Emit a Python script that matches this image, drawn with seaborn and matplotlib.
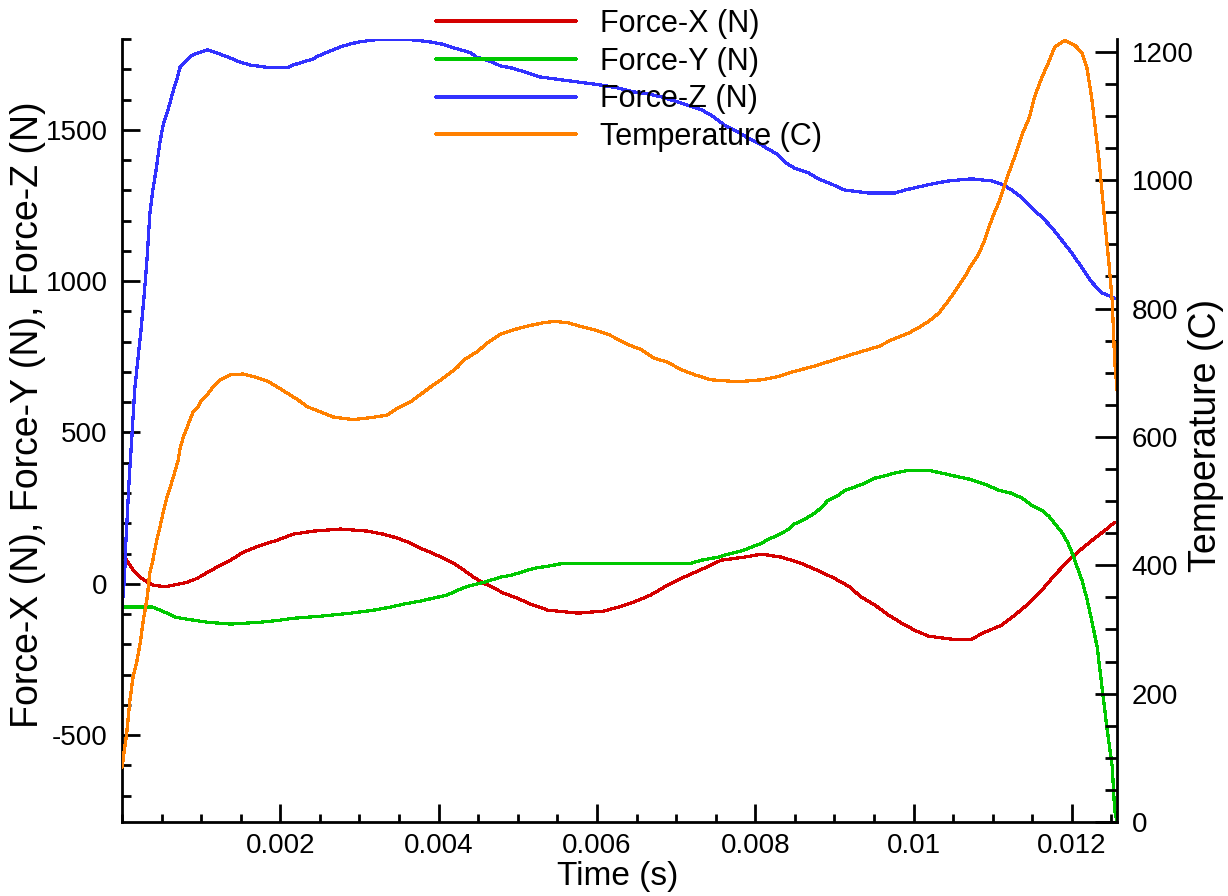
import matplotlib
matplotlib.use("Agg")
import matplotlib.pyplot as plt
from matplotlib import font_manager
from matplotlib.ticker import MultipleLocator, FixedLocator, FuncFormatter
import seaborn as sns
import pandas as pd

# ---------------- data (time in ms) ----------------
fx_t = [0, 0.06, 0.14, 0.23, 0.32, 0.39, 0.54, 0.70, 0.82, 0.95, 1.08, 1.20, 1.37, 1.53, 1.75,
        1.96, 2.16, 2.42, 2.76, 3.10, 3.30, 3.48, 3.65, 3.77, 3.90, 4.03, 4.19, 4.32, 4.44, 4.57,
        4.70, 4.82, 5.00, 5.16, 5.38, 5.76, 6.09, 6.27, 6.47, 6.68, 6.90, 7.15, 7.35, 7.57, 7.86,
        8.08, 8.33, 8.58, 8.84, 9.00, 9.18, 9.34, 9.51, 9.68, 9.85, 10.01, 10.19, 10.48, 10.73,
        10.90, 11.11, 11.28, 11.46, 11.62, 11.78, 11.96, 12.13, 12.29, 12.42, 12.54]
fx_v = [95, 78, 45, 22, 6, -4, -10, -2, 5, 18, 38, 55, 78, 104, 127,
        144, 164, 174, 181, 174, 164, 151, 134, 117, 104, 88, 68, 45, 22, 2,
        -14, -31, -48, -67, -87, -97, -90, -77, -60, -37, -3, 28, 51, 78, 88,
        98, 88, 68, 38, 18, -8, -44, -70, -103, -130, -153, -173, -183, -183,
        -160, -137, -103, -64, -21, 28, 78, 117, 151, 177, 203]

fy_t = [0, 0.39, 0.48, 0.57, 0.67, 0.82, 1.08, 1.37, 1.75, 2.00, 2.16, 2.51, 2.89, 3.18, 3.39,
        3.56, 3.77, 3.94, 4.11, 4.24, 4.37, 4.53, 4.66, 4.78, 4.91, 5.04, 5.20, 5.38, 5.58, 7.19,
        7.32, 7.53, 7.66, 7.82, 7.95, 8.08, 8.16, 8.29, 8.42, 8.49, 8.62, 8.75, 8.84, 8.92, 9.05,
        9.13, 9.25, 9.38, 9.51, 9.63, 9.76, 9.94, 10.19, 10.35, 10.52, 10.70, 10.90, 11.08, 11.24,
        11.37, 11.49, 11.62, 11.71, 11.78, 11.87, 11.94, 12.00, 12.06, 12.13, 12.19, 12.25, 12.32,
        12.38, 12.44, 12.51, 12.54, 12.57]
fy_v = [-77, -77, -87, -97, -110, -117, -127, -133, -127, -120, -114, -107, -97, -87, -77,
        -67, -57, -47, -37, -21, -8, 2, 12, 22, 28, 38, 51, 58, 68, 68,
        78, 88, 98, 108, 121, 134, 147, 161, 180, 197, 213, 233, 253, 276, 292,
        309, 319, 332, 349, 356, 366, 375, 375, 366, 356, 346, 329, 309, 299,
        283, 260, 243, 223, 200, 171, 140, 104, 60, 10, -50, -120, -210,
        -340, -470, -605, -747, -787]

fz_t = [0, 0.03, 0.05, 0.09, 0.13, 0.16, 0.20, 0.24, 0.28, 0.32, 0.35, 0.39, 0.43, 0.48, 0.52,
        0.57, 0.61, 0.65, 0.70, 0.73, 0.77, 0.82, 0.86, 0.90, 0.96, 1.08, 1.20, 1.33, 1.49, 1.62,
        1.87, 2.09, 2.16, 2.29, 2.41, 2.48, 2.57, 2.67, 2.76, 2.89, 2.99, 3.18, 3.43, 3.68, 3.90,
        4.03, 4.15, 4.28, 4.41, 4.47, 4.68, 4.78, 4.91, 5.04, 5.16, 5.27, 5.67, 6.05, 6.27, 6.47,
        6.65, 6.81, 7.06, 7.32, 7.44, 7.61, 7.78, 7.91, 8.04, 8.16, 8.29, 8.37, 8.49, 8.67, 8.80,
        8.96, 9.13, 9.43, 9.76, 9.89, 10.06, 10.23, 10.44, 10.73, 10.99, 11.11, 11.24, 11.37,
        11.49, 11.62, 11.75, 11.87, 12.00, 12.13, 12.25, 12.38, 12.54]
fz_v = [-77, 12, 144, 343, 508, 640, 740, 838, 954, 1086, 1218, 1301, 1367, 1460, 1516,
        1556, 1592, 1632, 1672, 1705, 1718, 1731, 1741, 1748, 1754, 1764, 1754, 1741, 1724, 1714,
        1705, 1705, 1714, 1724, 1734, 1744, 1754, 1764, 1774, 1784, 1790, 1797, 1799, 1797, 1790,
        1784, 1774, 1764, 1754, 1741, 1724, 1711, 1705, 1695, 1685, 1675, 1661, 1648, 1638, 1625,
        1618, 1609, 1589, 1566, 1549, 1516, 1493, 1473, 1456, 1437, 1417, 1394, 1374, 1358, 1338,
        1321, 1301, 1291, 1291, 1301, 1311, 1321, 1331, 1338, 1331, 1321, 1301, 1275,
        1242, 1212, 1176, 1136, 1093, 1043, 997, 961, 944]

temp_t = [0, 0.06, 0.10, 0.14, 0.19, 0.23, 0.27, 0.32, 0.35, 0.39, 0.44, 0.48, 0.52, 0.57, 0.61,
          0.65, 0.71, 0.73, 0.77, 0.82, 0.86, 0.90, 0.96, 1.01, 1.08, 1.15, 1.24, 1.37, 1.53, 1.66,
          1.84, 1.96, 2.09, 2.22, 2.34, 2.51, 2.67, 2.92, 3.14, 3.35, 3.48, 3.65, 3.77, 3.90, 4.03,
          4.15, 4.24, 4.32, 4.49, 4.62, 4.78, 4.95, 5.13, 5.33, 5.46, 5.63, 5.80, 5.96, 6.14, 6.30,
          6.39, 6.56, 6.72, 6.90, 7.06, 7.23, 7.44, 7.78, 8.08, 8.29, 8.49, 8.71, 8.92, 9.13, 9.34,
          9.56, 9.72, 9.94, 10.06, 10.19, 10.32, 10.42, 10.52, 10.65, 10.73, 10.82, 10.89, 10.95,
          11.01, 11.08, 11.15, 11.24, 11.30, 11.37, 11.46, 11.53, 11.62, 11.71, 11.78, 11.91,
          12.04, 12.13, 12.19, 12.25, 12.29, 12.34, 12.38, 12.42, 12.47, 12.51, 12.54, 12.57]
temp_v = [85, 139, 190, 226, 252, 279, 315, 351, 388, 408, 440, 460, 482, 507, 522,
          538, 564, 580, 598, 614, 627, 639, 647, 658, 666, 678, 689, 697, 698, 694,
          687, 678, 668, 658, 647, 639, 631, 627, 630, 634, 645, 655, 666, 678, 689,
          700, 709, 720, 733, 747, 760, 767, 773, 778, 780, 778, 772, 767, 760, 750,
          744, 736, 723, 716, 705, 697, 689, 686, 689, 694, 702, 709, 717, 725, 733,
          741, 751, 762, 770, 780, 793, 809, 826, 850, 868, 884, 904, 926,
          946, 966, 993, 1024, 1044, 1071, 1097, 1130, 1160, 1185, 1207, 1218,
          1210, 1198, 1175, 1129, 1087, 1035, 982, 931, 868, 811, 720, 673]

series_names = ["Force-X (N)", "Force-Y (N)", "Force-Z (N)", "Temperature (C)"]
series_colors = ["#d40000", "#00c800", "#3232ff", "#ff8000"]
x_tick_values = [0.002, 0.004, 0.006, 0.008, 0.010, 0.012]
left_tick_values = [-500, 0, 500, 1000, 1500]
right_tick_values = [0, 200, 400, 600, 800, 1000, 1200]

# ---------------- style ----------------
sns.set_theme(style="white")
avail = {f.name for f in font_manager.fontManager.ttflist}
fam = [f for f in ["Liberation Sans Narrow", "Liberation Sans", "DejaVu Sans"] if f in avail]
plt.rcParams["font.family"] = fam
plt.rcParams["font.size"] = 20
plt.rcParams["lines.antialiased"] = False
plt.rcParams["axes.unicode_minus"] = False
for key in ("text.color", "axes.labelcolor", "xtick.color", "ytick.color",
            "xtick.labelcolor", "ytick.labelcolor", "axes.edgecolor"):
    plt.rcParams[key] = "black"

fig = plt.figure(figsize=(12.28, 8.96), dpi=100)
fig.subplots_adjust(left=122 / 1228, right=1117 / 1228, bottom=1 - 822 / 896, top=1 - 39 / 896)
ax = fig.add_subplot(111)
ax2 = ax.twinx()

def frame(t, v):
    return pd.DataFrame({"t": [x / 1000.0 for x in t], "v": v})

lw = 1.6
sns.lineplot(data=frame(fx_t, fx_v), x="t", y="v", ax=ax, color=series_colors[0], lw=lw,
             estimator=None, sort=False, label=series_names[0], legend=False)
sns.lineplot(data=frame(fy_t, fy_v), x="t", y="v", ax=ax, color=series_colors[1], lw=lw,
             estimator=None, sort=False, label=series_names[1], legend=False)
sns.lineplot(data=frame(fz_t, fz_v), x="t", y="v", ax=ax, color=series_colors[2], lw=lw,
             estimator=None, sort=False, label=series_names[2], legend=False)
sns.lineplot(data=frame(temp_t, temp_v), x="t", y="v", ax=ax2, color=series_colors[3], lw=lw,
             estimator=None, sort=False, label=series_names[3], legend=False)

ax.set_xlim(0, 0.01257)
ax.set_ylim(-787, 1800)
ax2.set_ylim(0, 1220)

ax.xaxis.set_major_locator(FixedLocator(x_tick_values))
ax.xaxis.set_minor_locator(MultipleLocator(0.0005))
ax.xaxis.set_major_formatter(FuncFormatter(lambda v, p: f"{v:g}"))
ax.yaxis.set_major_locator(FixedLocator(left_tick_values))
ax.yaxis.set_minor_locator(MultipleLocator(100))
ax2.yaxis.set_major_locator(FixedLocator(right_tick_values))
ax2.yaxis.set_minor_locator(MultipleLocator(50))

for a in (ax, ax2):
    for side in ("left", "right", "bottom"):
        a.spines[side].set_visible(True)
        a.spines[side].set_color("black")
        a.spines[side].set_linewidth(2.0)
    a.spines["top"].set_visible(False)
ax.spines["right"].set_visible(False)
ax2.spines["left"].set_visible(False)
ax2.spines["bottom"].set_visible(False)

ax.tick_params(axis="y", which="both", direction="in", left=True, right=False, width=2,
               color="black", labelsize=20, pad=10.5)
ax.tick_params(axis="y", which="major", length=13)
ax.tick_params(axis="y", which="minor", length=6.5)
ax.tick_params(axis="x", which="both", direction="in", bottom=True, top=False, width=2,
               color="black", labelsize=20, pad=8)
ax.tick_params(axis="x", which="major", length=13)
ax.tick_params(axis="x", which="minor", length=6)
ax2.tick_params(axis="y", which="both", direction="in", right=True, left=False, width=2,
                color="black", labelsize=20, pad=10.5)
ax2.tick_params(axis="y", which="major", length=16)
ax2.tick_params(axis="y", which="minor", length=9)

ax.set_xlabel("Time (s)", fontsize=24)
ax.set_ylabel("Force-X (N), Force-Y (N), Force-Z (N)", fontsize=27)
ax2.set_ylabel("Temperature (C)", fontsize=27)
ax.xaxis.set_label_coords(0.4985, -0.050)
ax.yaxis.set_label_coords(-0.0764, 0.52)
ax2.yaxis.set_label_coords(1.0714, 0.494)
ax.grid(False)
ax2.grid(False)

handles = ax.get_lines()[:3] + ax2.get_lines()[:1]
fig.legend(handles, series_names, loc="upper left", bbox_to_anchor=(436 / 1228, 1 - 9 / 896),
           frameon=False, handlelength=4.58, handletextpad=0.78, labelspacing=0.25,
           borderpad=0, borderaxespad=0, fontsize=22)

fig.savefig("out.png", dpi=100)
